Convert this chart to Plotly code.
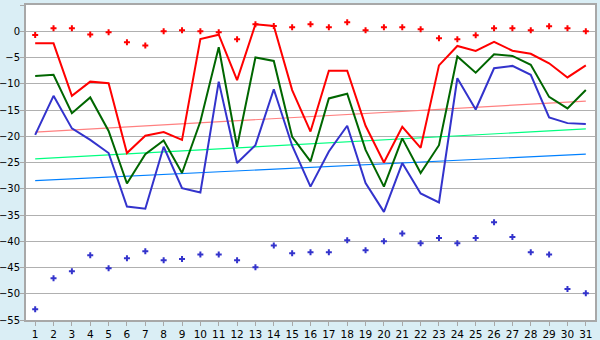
import plotly.graph_objects as go

days = list(range(1, 32))

red_points = [-0.7, 0.57, 0.57, -0.6, -0.2, -2.1, -2.7, 0.0, 0.2, 0.0,
              -0.2, -1.5, 1.33, 1.0, 0.76, 1.33, 0.76, 1.7, 0.2, 0.76,
              0.76, 0.38, -1.33, -1.5, -0.76, 0.57, 0.57, 0.19, 0.95, 0.57, 0.0]

red_line = [-2.3, -2.3, -12.3, -9.6, -9.9, -23.2, -19.9, -19.2, -20.7, -1.5,
            -0.65, -9.3, 1.33, 1.0, -11.2, -19.1, -7.5, -7.5, -18.0, -25.0,
            -18.2, -22.2, -6.5, -2.8, -3.75, -2.0, -3.7, -4.3, -6.1, -8.8, -6.5]

green_line = [-8.5, -8.3, -15.6, -12.6, -19.0, -29.0, -23.4, -20.8, -27.0, -17.2,
              -3.05, -22.0, -5.0, -5.65, -20.1, -24.8, -12.8, -11.9, -22.6, -29.6,
              -20.4, -27.0, -21.7, -4.8, -7.9, -4.4, -4.7, -6.4, -12.5, -14.7, -11.2]

blue_line = [-19.75, -12.3, -18.5, -20.7, -23.2, -33.4, -33.8, -22.0, -29.9, -30.7,
             -9.6, -25.1, -21.7, -11.05, -21.8, -29.6, -22.9, -18.0, -28.9, -34.4,
             -25.1, -30.9, -32.6, -8.95, -14.9, -7.05, -6.6, -8.3, -16.4, -17.5, -17.65]

blue_points = [-52.95, -47.05, -45.7, -42.67, -45.14, -43.24, -41.9, -43.6, -43.4, -42.5,
               -42.5, -43.6, -44.95, -40.8, -42.3, -42.1, -42.1, -39.8, -41.7, -40.0,
               -38.5, -40.4, -39.4, -40.4, -39.4, -36.4, -39.2, -42.1, -42.5, -49.1, -49.9]

trend_x = [1, 31]
red_trend = [-19.2, -13.3]
green_trend = [-24.3, -18.6]
blue_trend = [-28.45, -23.4]

RED = "#FF0000"
GREEN = "#006600"
BLUE = "#3333CC"

fig = go.Figure()

fig.add_trace(go.Scatter(x=trend_x, y=red_trend, mode="lines",
                         line=dict(color="#FF8080", width=1.2)))
fig.add_trace(go.Scatter(x=trend_x, y=green_trend, mode="lines",
                         line=dict(color="#00FF80", width=1.2)))
fig.add_trace(go.Scatter(x=trend_x, y=blue_trend, mode="lines",
                         line=dict(color="#0080FF", width=1.2)))

fig.add_trace(go.Scatter(x=days, y=blue_line, mode="lines",
                         line=dict(color=BLUE, width=2)))
fig.add_trace(go.Scatter(x=days, y=green_line, mode="lines",
                         line=dict(color=GREEN, width=2)))
fig.add_trace(go.Scatter(x=days, y=red_line, mode="lines",
                         line=dict(color=RED, width=2)))

fig.add_trace(go.Scatter(x=days, y=red_points, mode="markers",
                         marker=dict(symbol="cross", size=5, color=RED,
                                     line=dict(width=0))))
fig.add_trace(go.Scatter(x=days, y=blue_points, mode="markers",
                         marker=dict(symbol="cross", size=5, color=BLUE,
                                     line=dict(width=0))))

fig.update_layout(
    width=600, height=340,
    margin=dict(l=26, r=5, t=5, b=20, autoexpand=False),
    paper_bgcolor="#DAEEF5",
    plot_bgcolor="#FFFFFF",
    showlegend=False,
    font=dict(family="DejaVu Sans", size=10, color="#000000"),
)
fig.update_xaxes(
    range=[0.5, 31.5], tickmode="array", tickvals=days,
    ticktext=[str(d) for d in days],
    showgrid=False, zeroline=False, automargin=False,
    showline=True, linecolor="#A8A8A8", linewidth=2, mirror=True,
    ticks="outside", ticklen=4, tickcolor="#A8A8A8", tickwidth=1,
    ticklabelstandoff=-1,
    tickfont=dict(size=10.5),
)
fig.update_yaxes(
    range=[-55, 5], dtick=5, tick0=0, automargin=False,
    showgrid=True, gridcolor="#B0B0B0", gridwidth=1,
    zeroline=False,
    showline=True, linecolor="#A8A8A8", linewidth=2, mirror=True,
    ticks="outside", ticklen=4, tickcolor="#A8A8A8", tickwidth=1,
    ticklabelstandoff=-2,
    tickfont=dict(size=10),
)

fig.write_html("out.html",
               config={"displayModeBar": False},
               post_script="document.body.style.margin='0px';document.body.style.overflow='hidden';")
